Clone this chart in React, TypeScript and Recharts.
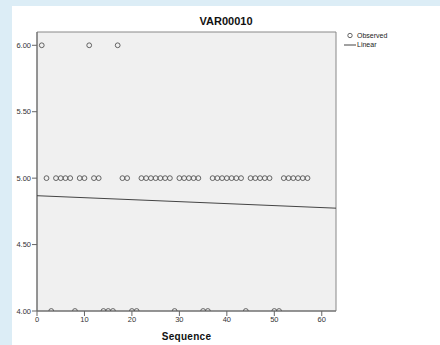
import { ScatterChart, Scatter, XAxis, YAxis, ReferenceArea } from "recharts";

// VAR00010 by sequence (1..57)
const sequence = Array.from({ length: 57 }, (_, i) => i + 1);
const highCases = [1, 11, 17]; // 6.00
const lowCases = [3, 8, 14, 15, 16, 20, 21, 29, 35, 36, 44, 50, 51]; // 4.00
const xTicks = [0, 10, 20, 30, 40, 50, 60];
const yTicks = [4, 4.5, 5, 5.5, 6];

const observed = sequence.map((s) => ({
  x: s,
  y: highCases.includes(s) ? 6 : lowCases.includes(s) ? 4 : 5,
}));

// least squares fit, drawn across the x range
const fit = (() => {
  const n = observed.length;
  const mx = observed.reduce((a, p) => a + p.x, 0) / n;
  const my = observed.reduce((a, p) => a + p.y, 0) / n;
  let sxy = 0;
  let sxx = 0;
  observed.forEach((p) => {
    sxy += (p.x - mx) * (p.y - my);
    sxx += (p.x - mx) * (p.x - mx);
  });
  const b = sxy / sxx;
  const a = my - b * mx;
  return [0, 63].map((x) => ({ x, y: a + b * x }));
})();

const font = "'Liberation Sans', Arial, sans-serif";

const Ring = (props: any) => (
  <circle cx={props.cx} cy={props.cy} r={2.4} fill="none" stroke="#555" strokeWidth={0.9} />
);

export default function App() {
  return (
    <div style={{ position: "absolute", left: 0, top: 0, width: 440, height: 345, background: "#dcedf6", fontFamily: font }}>
      <div style={{ position: "absolute", left: 12, top: 6, width: 428, height: 339, background: "#fff" }} />
      <div style={{ position: "absolute", left: 12, width: 428, top: 15, textAlign: "center", fontSize: 11, fontWeight: "bold", color: "#111" }}>
        VAR00010
      </div>
      <div style={{ position: "absolute", left: 37, width: 299, top: 331, textAlign: "center", fontSize: 10, fontWeight: "bold", color: "#111", letterSpacing: 0.3 }}>
        Sequence
      </div>
      <div style={{ position: "absolute", left: 343, top: 31, fontSize: 7, color: "#222", lineHeight: "9px" }}>
        <div style={{ display: "flex", alignItems: "center" }}>
          <svg width={13} height={9}>
            <circle cx={7} cy={4.5} r={2.2} fill="none" stroke="#555" strokeWidth={0.9} />
          </svg>
          <span style={{ marginLeft: 1 }}>Observed</span>
        </div>
        <div style={{ display: "flex", alignItems: "center" }}>
          <svg width={13} height={9}>
            <line x1={1} x2={13} y1={5} y2={5} stroke="#444" strokeWidth={1} />
          </svg>
          <span style={{ marginLeft: 1 }}>Linear</span>
        </div>
      </div>
      <div style={{ position: "absolute", left: 0, top: 0 }}>
        <ScatterChart width={440} height={345} margin={{ top: 32, right: 104, bottom: 0, left: 7 }}>
          <XAxis
            type="number"
            dataKey="x"
            domain={[0, 63]}
            ticks={xTicks}
            height={34}
            tickSize={5}
            tickMargin={1}
            axisLine={{ stroke: "#666" }}
            tickLine={{ stroke: "#666" }}
            tick={{ fontSize: 7.5, fill: "#333", fontFamily: font }}
          />
          <YAxis
            type="number"
            dataKey="y"
            domain={[4, 6.1]}
            ticks={yTicks}
            allowDataOverflow
            width={30}
            tickSize={5}
            tickMargin={1}
            axisLine={{ stroke: "#666" }}
            tickLine={{ stroke: "#666" }}
            tickFormatter={(v: number) => v.toFixed(2)}
            tick={{ fontSize: 7.5, fill: "#333", fontFamily: font }}
          />
          <ReferenceArea x1={0} x2={63} y1={4} y2={6.1} fill="#f0f0f0" fillOpacity={1} stroke="#888" strokeWidth={1} />
          <Scatter data={observed} shape={<Ring />} isAnimationActive={false} />
          <Scatter
            data={fit}
            line={{ stroke: "#444", strokeWidth: 1 }}
            shape={() => null}
            isAnimationActive={false}
          />
        </ScatterChart>
      </div>
    </div>
  );
}
